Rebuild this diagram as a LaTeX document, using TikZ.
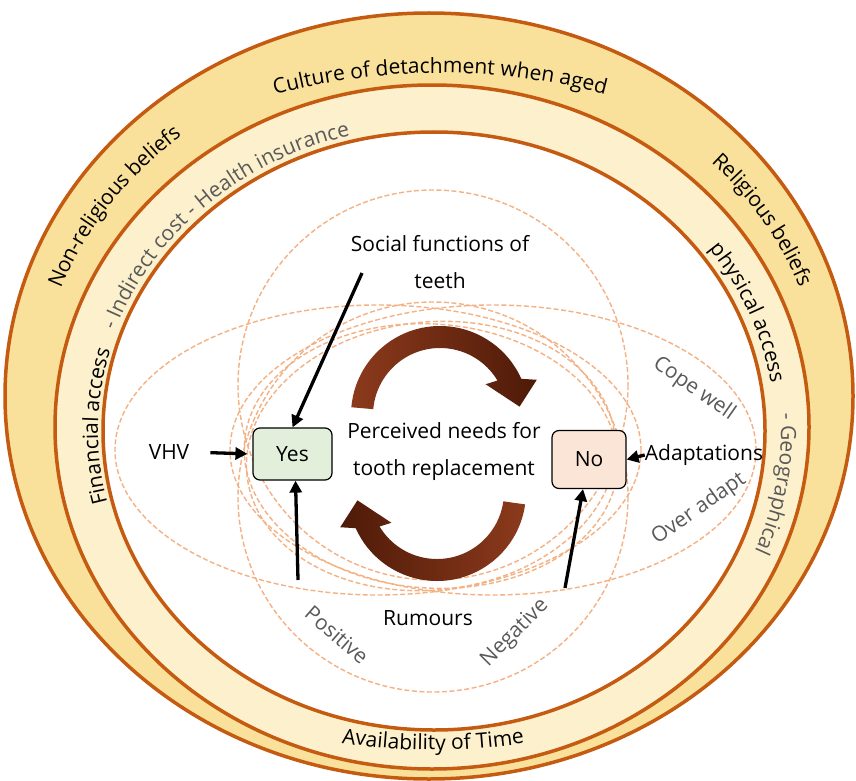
\documentclass[tikz,border=0pt]{standalone}
\usepackage{fontspec}
\setmainfont{Open Sans}
\usetikzlibrary{arrows.meta,decorations.text,positioning}

\definecolor{bandout}{HTML}{F9E09B}
\definecolor{bandin}{HTML}{FCF0CD}
\definecolor{rim}{HTML}{C55A11}
\definecolor{dashc}{HTML}{F4B183}
\definecolor{yesfill}{HTML}{E2EFDA}
\definecolor{nofill}{HTML}{FBE5D6}
\definecolor{txtgray}{HTML}{595959}
\definecolor{brlight}{HTML}{8C3A1C}
\definecolor{brdark}{HTML}{4E1A08}

\newcommand{\lblfont}{\fontsize{21}{37}\selectfont}

\tikzset{
  rimline/.style={draw=rim, line width=3.5pt},
  dashring/.style={draw=dashc, line width=1.4pt, dash pattern=on 5pt off 2.5pt},
  answer/.style={draw=black, line width=1.2pt, rounded corners=7pt, font=\lblfont, inner sep=0pt},
  lbl/.style={font=\lblfont, align=center, inner sep=0pt},
  note/.style={font=\lblfont, text=txtgray, inner sep=0pt},
  feed/.style={line width=3.3pt, -{Triangle[length=12pt,width=12pt]}},
}

\begin{document}
\begin{tikzpicture}[x=1pt,y=-1pt]
   \useasboundingbox (0,0) rectangle (856,781);

   % rings
   \filldraw[rimline, fill=bandout] (429,396) ellipse[x radius=424,y radius=383];
   \filldraw[rimline, fill=bandin] (432,427) ellipse[x radius=377,y radius=342];
   \filldraw[rimline, fill=white] (434,431) ellipse[x radius=331,y radius=299];

   % dashed circles
   \draw[dashring] (433,385) circle[radius=195];
   \draw[dashring] (433,497) circle[radius=195];
   \draw[dashring] (378,450) ellipse[x radius=263,y radius=145];
   \draw[dashring] (493,450) ellipse[x radius=263,y radius=145];
   \draw[dashring, rotate around={6:(431,456)}] (431,456) ellipse[x radius=185,y radius=134];
   \draw[dashring, rotate around={-4:(431,456)}] (431,456) ellipse[x radius=187,y radius=132];

   % cycle arrows
   \begin{scope}[shift={(440,415)}]
     \shade[left color=brlight, right color=brdark] (185:89) arc[start angle=185,end angle=336,radius=89]
       -- (340:103) -- (354:80) -- (326:55) -- (329:67) arc[start angle=329,end angle=185,radius=67] -- cycle;
   \end{scope}
   \begin{scope}[shift={(437,492)}]
     \shade[left color=brdark, right color=brlight] (8:89) arc[start angle=8,end angle=156,radius=89]
       -- (160:103) -- (174:80) -- (146:55) -- (149:67) arc[start angle=149,end angle=8,radius=67] -- cycle;
   \end{scope}

   % boxes and labels
   \node[answer, fill=yesfill, minimum width=79pt, minimum height=52pt] (yes) at (292.5,454) {Yes};
   \node[answer, fill=nofill, minimum width=74pt, minimum height=58pt] (no) at (589,459.5) {No};

   \node[lbl] (social) at (440,262) {Social functions of\\teeth};
   \node[lbl] (need) at (444,451) {Perceived needs for\\tooth replacement};
   \node[lbl] (vhv) at (169,452) {VHV};
   \node[lbl] (adapt) at (704,455) {Adaptations};
   \node[lbl] (rumour) at (428,618) {Rumours};

   \node[note, rotate=-35] (cope) at (694,389) {Cope well};
   \node[note, rotate=35] (overad) at (699,509) {Over adapt};
   \node[note, rotate=-41] (posit) at (337,635) {Positive};
   \node[note, rotate=45] (negat) at (515,633) {Negative};

   \coordinate (sfstart) at (362,273);
   \coordinate (posstart) at (298,580);
   \coordinate (negstart) at (565,588);

   \draw[feed] (sfstart) -- (yes.north);
   \draw[feed] (posstart) -- ([xshift=3pt]yes.south);
   \draw[feed] (negstart) -- ([xshift=-6pt]no.south);
   \draw[feed, shorten <=21pt, shorten >=5pt] (vhv.east) -- (yes.west);
   \draw[feed] (adapt.west) -- (no.east);

   % ring texts
   \path[decorate, decoration={text along path, text align=center,
       text={|\lblfont|Culture of detachment when aged}}]
     ([shift={(240:650)}]440,723) arc[start angle=240,end angle=300,radius=650];
   \path[decorate, decoration={text along path, text align=center, raise=-7pt,
       text={|\lblfont|Non-religious beliefs}}]
     ([shift={(185:400.5 and 362)}]430.5,411) arc[start angle=185,end angle=245,x radius=400.5,y radius=362];
   \path[decorate, decoration={text along path, text align=center, raise=-7pt,
       text={|\lblfont|Religious beliefs}}]
     ([shift={(-60:400.5 and 362)}]430.5,411) arc[start angle=-60,end angle=-4,x radius=400.5,y radius=362];
   \path[decorate, decoration={text along path, text align=center, raise=2pt,
       text={|\lblfont\color{txtgray}|- Indirect cost - Health insurance}}]
     ([shift={(190:336 and 303.5)}]434,431.5) arc[start angle=190,end angle=264,x radius=336,y radius=303.5];
   \path[decorate, decoration={text along path, text align=center,
       text={|\lblfont|Financial access}}]
     ([shift={(160:336 and 303.5)}]434,431.5) arc[start angle=160,end angle=202,x radius=336,y radius=303.5];
   \path[decorate, decoration={text along path, text align=center, raise=5pt,
       text={|\lblfont|physical access}}]
     ([shift={(-42:336 and 303.5)}]434,431.5) arc[start angle=-42,end angle=-3,x radius=336,y radius=303.5];
   \path[decorate, decoration={text along path, text align=center,
       text={|\lblfont\color{txtgray}|- Geographical}}]
     ([shift={(-10:347 and 313)}]434,431.5) arc[start angle=-10,end angle=29,x radius=347,y radius=313];
   \path[decorate, decoration={text along path, text align=center,
       text={|\lblfont|Availability of Time}}]
     ([shift={(120:600)}]433,150) arc[start angle=120,end angle=60,radius=600];

\end{tikzpicture}
\end{document}
